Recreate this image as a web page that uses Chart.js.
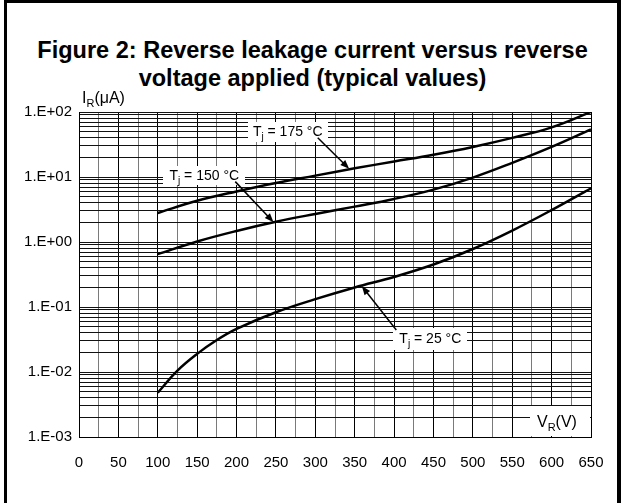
<!DOCTYPE html>
<html>
<head>
<meta charset="utf-8">
<script src="https://cdn.jsdelivr.net/npm/chart.js@4.4.1/dist/chart.umd.min.js"></script>
<style>
  html, body { margin: 0; padding: 0; background: #fff; }
  #frame {
    position: absolute; left: 4px; top: 0; width: 617px; height: 503px;
    box-sizing: border-box;
    border-left: 3px solid #000; border-top: 3px solid #000; border-right: 4px solid #000;
  }
  #title {
    position: absolute; left: 4px; width: 617px; top: 36px;
    text-align: center; color: #000;
    font: bold 24px "Liberation Sans", Arial, sans-serif; line-height: 28px;
    transform: scaleX(0.98);
  }
  #wrap { position: absolute; left: 0; top: 0; width: 621px; height: 503px; }
</style>
</head>
<body>
<div id="frame"></div>
<div id="title">Figure 2: Reverse leakage current versus reverse<br>voltage applied (typical values)</div>
<div id="wrap"><canvas id="chart" width="621" height="503"></canvas></div>
<script>
// Data (reverse voltage in V, leakage current in uA)
const voltages = [100, 150, 200, 250, 300, 350, 400, 450, 500, 550, 600, 650];
const current175 = [2.8, 4.3, 6.0, 8.1, 10.5, 13.6, 17.3, 22, 29, 40, 58, 100];
const current150 = [0.65, 1.02, 1.48, 2.05, 2.7, 3.5, 4.6, 6.4, 9.8, 16.5, 29, 54];

const voltages25 = [100, 125, 150, 175, 200, 250, 300, 350, 400, 450, 500, 550, 600, 650];
const current25 = [0.0048, 0.0105, 0.019, 0.031, 0.046, 0.083, 0.132, 0.2, 0.29, 0.45, 0.78, 1.5, 3.1, 6.7];

const seriesNames = ['175', '150', '25'];

// log grid: 1..9 for each decade from 1E-03 to 1E+02
const decades = [-3, -2, -1, 0, 1];
const yMin = 1e-3;
const yMax = 1e2;
const xMin = 0;
const xMax = 650;

// curve labels: box centre and arrow tip in data units, tail offset in px
const notes = [
  { name: '175', v: 265, i: 49.8, w: 80, h: 20, tailDx: 30, tailDy: 6, tipV: 343, tipI: 13.4 },
  { name: '150', v: 159, i: 10.5, w: 82, h: 19, tailDx: 31, tailDy: 6, tipV: 247, tipI: 2.02 },
  { name: '25', v: 446, i: 0.0322, w: 74, h: 22, tailDx: -34, tailDy: -9, tipV: 359, tipI: 0.21 }
];

const FONT = '"Liberation Sans", Arial, sans-serif';

function toPoints(xs, ys) {
  return xs.map((x, k) => ({ x: x, y: ys[k] }));
}

function isDecade(v) {
  const l = Math.log10(v);
  return Math.abs(l - Math.round(l)) < 1e-9;
}

function formatDecade(v) {
  const e = Math.round(Math.log10(v));
  return '1.E' + (e < 0 ? '-' : '+') + String(Math.abs(e)).padStart(2, '0');
}

// text with a subscript after the first letter: T_j, I_R, V_R
function drawSubText(ctx, main, sub, rest, x, y, size) {
  ctx.font = size + 'px ' + FONT;
  ctx.fillText(main, x, y);
  let cx = x + ctx.measureText(main).width;
  ctx.font = Math.round(size * 0.68) + 'px ' + FONT;
  ctx.fillText(sub, cx, y + size * 0.25);
  cx += ctx.measureText(sub).width;
  ctx.font = size + 'px ' + FONT;
  ctx.fillText(rest, cx, y);
}

function measureSubText(ctx, main, sub, rest, size) {
  ctx.font = size + 'px ' + FONT;
  let w = ctx.measureText(main).width + ctx.measureText(rest).width;
  ctx.font = Math.round(size * 0.68) + 'px ' + FONT;
  return w + ctx.measureText(sub).width;
}

function drawArrow(ctx, x0, y0, x1, y1) {
  const a = Math.atan2(y1 - y0, x1 - x0);
  const len = 9, half = 3.5;
  ctx.strokeStyle = '#000';
  ctx.lineWidth = 1.5;
  ctx.beginPath();
  ctx.moveTo(x0, y0);
  ctx.lineTo(x1 - Math.cos(a) * len * 0.8, y1 - Math.sin(a) * len * 0.8);
  ctx.stroke();
  ctx.fillStyle = '#000';
  ctx.beginPath();
  ctx.moveTo(x1, y1);
  ctx.lineTo(x1 - Math.cos(a) * len - Math.sin(a) * half, y1 - Math.sin(a) * len + Math.cos(a) * half);
  ctx.lineTo(x1 - Math.cos(a) * len + Math.sin(a) * half, y1 - Math.sin(a) * len - Math.cos(a) * half);
  ctx.closePath();
  ctx.fill();
}

const labelPlugin = {
  id: 'labels',
  afterDatasetsDraw(chart) {
    const ctx = chart.ctx;
    const xs = chart.scales.x, ys = chart.scales.y;
    const area = chart.chartArea;
    ctx.save();
    ctx.textBaseline = 'alphabetic';
    ctx.textAlign = 'left';

    notes.forEach(n => {
      const cx = xs.getPixelForValue(n.v);
      const cy = ys.getPixelForValue(n.i);
      ctx.fillStyle = '#fff';
      ctx.fillRect(Math.round(cx - n.w / 2), Math.round(cy - n.h / 2), n.w, n.h);
      const rest = ' = ' + n.name + ' \u00B0C';
      const tw = measureSubText(ctx, 'T', 'j', rest, 14);
      ctx.fillStyle = '#000';
      drawSubText(ctx, 'T', 'j', rest, cx - tw / 2, cy + 4.5, 14);
      drawArrow(ctx, cx + n.tailDx, cy + n.tailDy,
        xs.getPixelForValue(n.tipV), ys.getPixelForValue(n.tipI));
    });

    // axis titles
    ctx.fillStyle = '#000';
    drawSubText(ctx, 'I', 'R', '(\u03BCA)', area.left + 3, area.top - 9, 16);

    ctx.fillStyle = '#fff';
    ctx.fillRect(area.right - 61, area.bottom - 31, 60, 30);
    ctx.fillStyle = '#000';
    drawSubText(ctx, 'V', 'R', '(V)', area.right - 54, area.bottom - 10, 16);
    ctx.restore();
  }
};

const yTicks = [];
decades.forEach(d => {
  for (let m = 1; m <= 9; m++) yTicks.push(m * Math.pow(10, d));
});
yTicks.push(yMax);

new Chart(document.getElementById('chart'), {
  type: 'line',
  data: {
    datasets: [
      { label: seriesNames[0], data: toPoints(voltages, current175) },
      { label: seriesNames[1], data: toPoints(voltages, current150) },
      { label: seriesNames[2], data: toPoints(voltages25, current25) }
    ].map(ds => Object.assign(ds, {
      borderColor: '#000',
      borderWidth: 2.5,
      pointRadius: 0,
      fill: false,
      tension: 0.4
    }))
  },
  options: {
    responsive: false,
    animation: false,
    devicePixelRatio: 1,
    layout: { padding: { top: 112, right: 30, left: 0, bottom: 0 } },
    plugins: {
      legend: { display: false },
      tooltip: { enabled: false },
      title: { display: false }
    },
    scales: {
      x: {
        type: 'linear',
        min: xMin,
        max: xMax,
        afterFit: scale => { scale.height = 66; },
        grid: {
          drawTicks: false,
          color: c => (c.tick && c.tick.value % 50 === 0) ? '#000' : '#7a7a7a',
          lineWidth: 1
        },
        border: { color: '#000', width: 1 },
        ticks: {
          stepSize: 25,
          autoSkip: false,
          maxRotation: 0,
          padding: 17,
          color: '#000',
          font: { family: FONT, size: 15 },
          callback: v => (v % 50 === 0 ? String(v) : '')
        }
      },
      y: {
        type: 'logarithmic',
        min: yMin,
        max: yMax,
        afterFit: scale => { scale.width = 79; },
        afterBuildTicks: scale => { scale.ticks = yTicks.map(v => ({ value: v })); },
        grid: {
          drawTicks: false,
          color: '#111',
          lineWidth: 1
        },
        border: { color: '#000', width: 1 },
        ticks: {
          autoSkip: false,
          padding: 7,
          color: '#000',
          font: { family: FONT, size: 15 },
          callback: v => (isDecade(v) ? formatDecade(v) : '')
        }
      }
    }
  },
  plugins: [labelPlugin]
});
</script>
</body>
</html>
